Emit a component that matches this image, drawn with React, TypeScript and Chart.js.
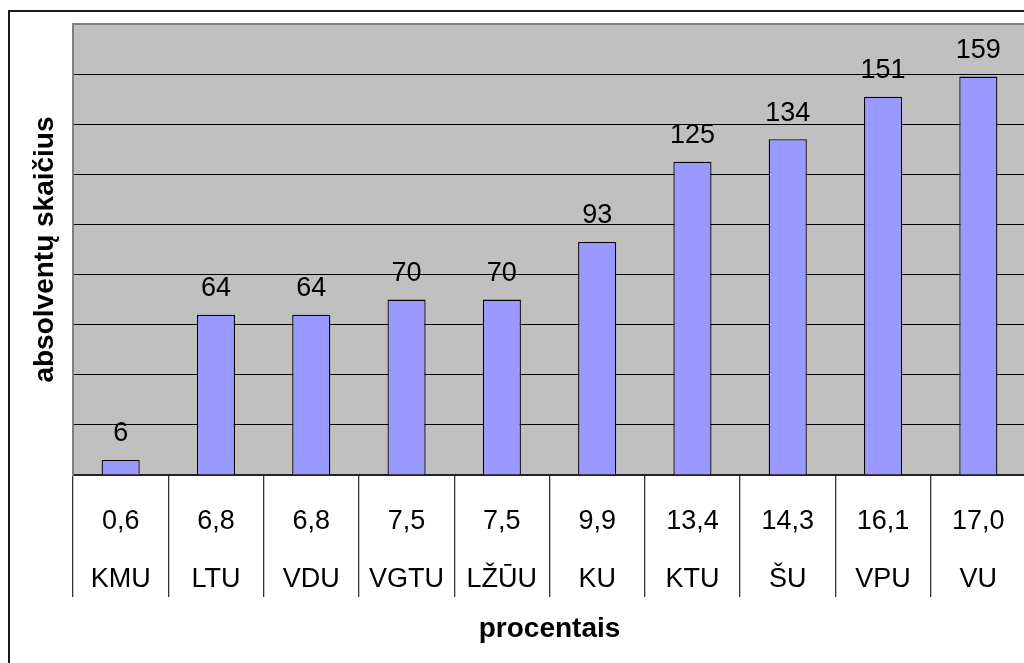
import React, { useEffect, useRef } from "react";
import { Chart, registerables } from "chart.js";

Chart.register(...registerables);

const categories = ["KMU", "LTU", "VDU", "VGTU", "LŽŪU", "KU", "KTU", "ŠU", "VPU", "VU"];
const percentages = ["0,6", "6,8", "6,8", "7,5", "7,5", "9,9", "13,4", "14,3", "16,1", "17,0"];
const values = [6, 64, 64, 70, 70, 93, 125, 134, 151, 159];
const yMax = 180;
const yStep = 20;

const FONT = "'Liberation Sans', Arial, sans-serif";

const bgPlugin = {
  id: "bgPlugin",
  beforeDraw(chart: any) {
    const { ctx, chartArea } = chart;
    ctx.save();
    ctx.fillStyle = "#ffffff";
    ctx.fillRect(0, 0, chart.width, chart.height);
    ctx.fillStyle = "#C0C0C0";
    ctx.fillRect(chartArea.left, chartArea.top, chartArea.right - chartArea.left, chartArea.bottom - chartArea.top);
    ctx.strokeStyle = "#1a1a1a";
    ctx.lineWidth = 2;
    ctx.strokeRect(9, 11, chart.width + 50, chart.height + 50);
    ctx.restore();
  },
};

const labelPlugin = {
  id: "labelPlugin",
  afterDatasetsDraw(chart: any) {
    const { ctx } = chart;
    const meta = chart.getDatasetMeta(0);
    ctx.save();
    ctx.fillStyle = "#000";
    ctx.font = `27px ${FONT}`;
    ctx.textAlign = "center";
    ctx.textBaseline = "middle";
    meta.data.forEach((bar: any, i: number) => {
      ctx.fillText(String(values[i]), bar.x, bar.y - 26);
    });
    ctx.restore();
  },
};

export default function App() {
  const ref = useRef<HTMLCanvasElement>(null);
  useEffect(() => {
    if (!ref.current) return;
    const chart = new Chart(ref.current, {
      type: "bar",
      data: {
        labels: categories.map((c, i) => [percentages[i], c]),
        datasets: [
          {
            data: values,
            backgroundColor: "#9999FF",
            borderColor: "#000000",
            borderWidth: 1.3,
            categoryPercentage: 1,
            barPercentage: 0.4,
          },
        ],
      },
      options: {
        animation: false,
        responsive: false,
        devicePixelRatio: 1,
        layout: { padding: { left: 0, top: 24, right: 14, bottom: 0 } },
        plugins: { legend: { display: false }, tooltip: { enabled: false } },
        scales: {
          x: {
            offset: true,
            grid: {
              offset: true,
              drawOnChartArea: false,
              drawTicks: true,
              tickLength: 122,
              color: "#333333",
              lineWidth: 1.3,
            },
            border: { display: true, color: "#222222", width: 2 },
            ticks: {
              color: "#000",
              padding: -104,
              font: { family: FONT, size: 27, lineHeight: 2.148 },
              maxRotation: 0,
              autoSkip: false,
            },
            title: {
              display: true,
              text: "procentais",
              color: "#000",
              font: { family: FONT, size: 28, weight: "bold", lineHeight: 1.2 },
              padding: { top: 107.4, bottom: 17 },
            },
          },
          y: {
            min: 0,
            max: yMax,
            ticks: { display: false, stepSize: yStep },
            grid: {
              drawTicks: false,
              color: (c: any) => (c.tick && c.tick.value === yMax ? "#808080" : "#000000"),
              lineWidth: (c: any) => (c.tick && c.tick.value === yMax ? 2 : 1),
            },
            border: { display: true, color: "#808080", width: 2 },
            title: {
              display: true,
              text: "absolventų skaičius",
              color: "#000",
              font: { family: FONT, size: 28, weight: "bold", lineHeight: 1.2 },
              padding: { top: 28.7, bottom: 10.7 },
            },
          },
        },
      },
      plugins: [bgPlugin, labelPlugin],
    });
    return () => chart.destroy();
  }, []);
  return (
    <div style={{ position: "fixed", left: 0, top: 0, width: 1024, height: 663, overflow: "hidden", background: "#fff" }}>
      <canvas ref={ref} width={1040} height={663} style={{ display: "block", width: 1040, height: 663 }} />
    </div>
  );
}
